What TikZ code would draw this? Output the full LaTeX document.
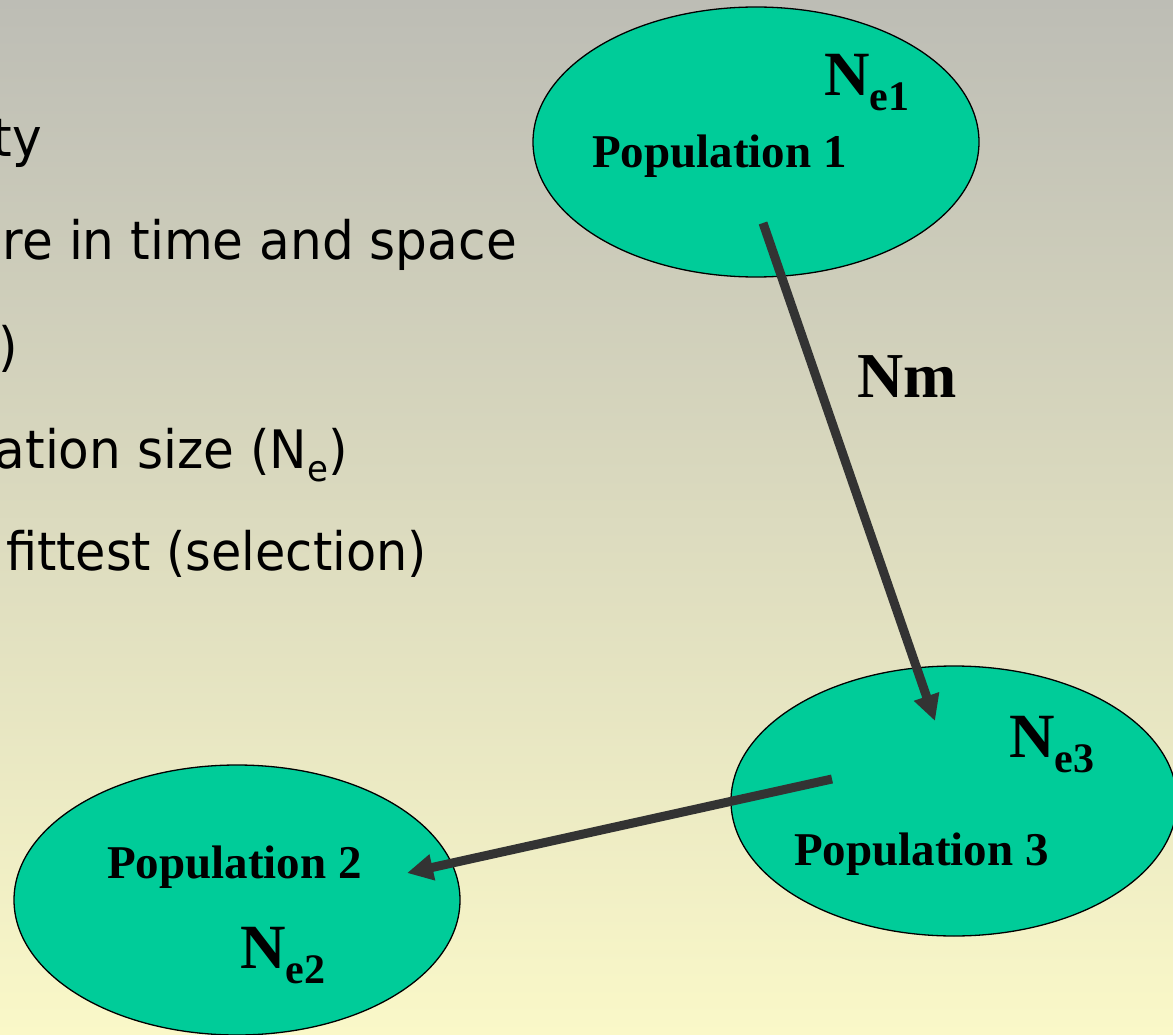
\documentclass[tikz,border=0pt]{standalone}
\usepackage{fontspec}
\usetikzlibrary{shapes.geometric,arrows.meta}
\setmainfont{Liberation Serif}
\newfontfamily\tahfont[FakeStretch=0.945]{DejaVu Sans}
\definecolor{popfill}{RGB}{0,204,153}
\definecolor{arrowgrey}{RGB}{51,51,51}
\definecolor{bgtop}{RGB}{189,189,181}
\definecolor{bgbottom}{RGB}{250,248,200}
\tikzset{
  pop/.style={ellipse, draw=black, line width=1.3pt, fill=popfill,
    minimum width=446pt, minimum height=270pt, inner sep=0pt},
  bullettext/.style={anchor=base east, inner sep=0pt,
    font=\tahfont\fontsize{53}{53}\selectfont},
  poplabel/.style={anchor=base west, inner sep=0pt,
    font=\bfseries\fontsize{47}{47}\selectfont},
  nlabel/.style={anchor=base west, inner sep=0pt,
    font=\bfseries\fontsize{63}{63}\selectfont},
  flow/.style={draw=arrowgrey, line width=9pt,
    -{Triangle[length=26pt,width=25pt]}}
}
\newcommand{\nsub}[1]{N\raisebox{-15pt}{\fontsize{42}{42}\selectfont #1}}
\begin{document}
\begin{tikzpicture}[x=1pt,y=-1pt]
\useasboundingbox (0,0) rectangle (1173,1035);
\shade[top color=bgtop, bottom color=bgbottom] (0,0) rectangle (1173,1035);
\clip (0,0) rectangle (1173,1035);

% left bullet text (cut off at left edge)
\node[bullettext] (t1) at (42,157) {ty};
\node[bullettext] (t2) at (517,260) {re in time and space};
\node[bullettext] (t3) at (18,365) {)};
\node[bullettext] (t4) at (348,468) {ation size (N\raisebox{-13pt}{\fontsize{36}{36}\selectfont e})};
\node[bullettext, font=\tahfont\fontsize{53}{53}\selectfont\addfontfeature{FakeStretch=0.93}] (t5) at (427,570) {fittest (selection)};

% populations
\node[pop] (p1) at (756,142) {};
\node[pop] (p3) at (954,801) {};
\node[pop] (p2) at (237,900) {};

\node[poplabel] (l1) at (592,168) {Population 1};
\node[poplabel] (l3) at (794,865) {Population 3};
\node[poplabel] (l2) at (107,878) {Population 2};

\node[nlabel] (n1) at (824,96) {\nsub{e1}};
\node[nlabel] (n3) at (1009,757) {\nsub{e3}};
\node[nlabel] (n2) at (240,968) {\nsub{e2}};

\node[nlabel, font=\bfseries\fontsize{64}{64}\selectfont] (nm) at (857,397) {Nm};

% migration arrows
\coordinate (a1s) at (763,223);
\coordinate (a1e) at (935,721);
\coordinate (a2s) at (832,779);
\coordinate (a2e) at (407,873);
\draw[flow] (a1s) -- (a1e);
\draw[flow] (a2s) -- (a2e);
\end{tikzpicture}
\end{document}
